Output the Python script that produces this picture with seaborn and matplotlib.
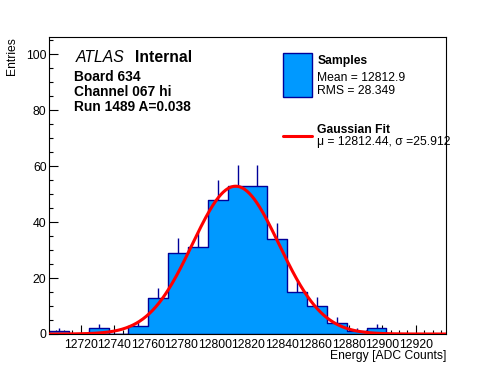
import numpy as np
import pandas as pd
import matplotlib
matplotlib.use("Agg")
import matplotlib.pyplot as plt
from matplotlib.patches import Rectangle
from matplotlib.lines import Line2D
from matplotlib.ticker import MultipleLocator
import seaborn as sns

# ---------------- data ----------------
bin_low = 12701.0
bin_width = 11.85
counts = [1, 0, 2, 0, 3, 13, 29, 31, 48, 53, 53, 34, 15, 10, 4, 1, 2, 0, 0, 0]
x_tick_values = [12720, 12740, 12760, 12780, 12800, 12820, 12840, 12860, 12880, 12900, 12920]
y_tick_values = [0, 20, 40, 60, 80, 100]
fit_mu = 12812.44
fit_sigma = 25.912
fit_amplitude = 52.8
sample_mean = "12812.9"
sample_rms = "28.349"
y_max = 106.0

FILL = "#0099ff"
EDGE = "#000099"

sns.set_style("ticks")
plt.rcParams["font.family"] = ["Liberation Sans", "DejaVu Sans"]
plt.rcParams["text.color"] = "black"
plt.rcParams["axes.labelcolor"] = "black"

W, H = 496, 372
fig = plt.figure(figsize=(W / 100, H / 100), dpi=100)
ax = fig.add_axes([49 / W, 1 - 334 / H, (446 - 49) / W, (334 - 37.3) / H])

counts_arr = np.array(counts, dtype=float)
n_bins = len(counts)
edges = bin_low + bin_width * np.arange(n_bins + 1)
centers = 0.5 * (edges[:-1] + edges[1:])
x_hi = float(edges[-1])

df = pd.DataFrame({"center": centers, "count": counts_arr})
sns.histplot(data=df, x="center", weights="count", bins=[float(e) for e in edges],
             element="step", fill=True, color=FILL, edgecolor=EDGE, linewidth=1.0,
             alpha=1.0, ax=ax, zorder=2)

nz = counts_arr > 0
ax.vlines(centers[nz], counts_arr[nz], counts_arr[nz] + np.sqrt(counts_arr[nz]),
          color=EDGE, linewidth=1.0, zorder=3)

xs = np.linspace(bin_low, x_hi, 500)
ys = fit_amplitude * np.exp(-0.5 * ((xs - fit_mu) / fit_sigma) ** 2)
sns.lineplot(x=xs, y=ys, color="red", linewidth=2.2, ax=ax, zorder=4)

ax.set_xlim(bin_low, x_hi)
ax.set_ylim(0, y_max)
ax.set_xticks(x_tick_values)
ax.set_xticklabels([str(v) for v in x_tick_values])
ax.set_yticks(y_tick_values)
ax.set_yticklabels([str(v) for v in y_tick_values])
ax.xaxis.set_minor_locator(MultipleLocator(5))
ax.yaxis.set_minor_locator(MultipleLocator(5))
ax.tick_params(axis="both", which="both", direction="in", colors="black", width=0.8,
               labelsize=8.8, top=False, right=False)
ax.tick_params(axis="both", which="major", length=6.5)
ax.tick_params(axis="both", which="minor", length=3.2)
ax.tick_params(axis="x", which="major", pad=3.3)
ax.tick_params(axis="y", which="major", pad=1.8)
ax.set_xlabel("")
ax.set_ylabel("")
for s in ax.spines.values():
    s.set_color("black")
    s.set_linewidth(0.8)
    s.set_visible(True)
ax.set_facecolor("white")


def P(x, y):
    return (x / W, 1 - y / H)


fig.text(*P(446, 358.5), "Energy [ADC Counts]", ha="right", va="baseline", fontsize=8.7)
fig.text(*P(12, 36.7), "Entries", ha="center", va="top", rotation=90, fontsize=8.7)

fig.text(*P(75.5, 61.5), "ATLAS", ha="left", va="baseline", fontsize=11.3, style="italic")
fig.text(*P(134.5, 61.5), "Internal", ha="left", va="baseline", fontsize=11.3, weight="bold")
fig.text(*P(74.5, 80.7), "Board 634", ha="left", va="baseline", fontsize=9.9, weight="bold")
fig.text(*P(74.5, 96), "Channel 067 hi", ha="left", va="baseline", fontsize=9.9, weight="bold")
fig.text(*P(74.5, 111), "Run 1489 A=0.038", ha="left", va="baseline", fontsize=9.9, weight="bold")

# legend
fig.patches.append(Rectangle(P(283.3, 96.7), 28.4 / W, 43.4 / H, facecolor=FILL,
                             edgecolor=EDGE, linewidth=1.0, transform=fig.transFigure))
fig.lines.append(Line2D([283.3 / W, 311.7 / W], [1 - 136 / H] * 2, color="red",
                        linewidth=2.2, transform=fig.transFigure))
fig.text(*P(317.3, 64), "Samples", ha="left", va="baseline", fontsize=8.7, weight="bold")
fig.text(*P(317.3, 80.7), f"Mean = {sample_mean}", ha="left", va="baseline", fontsize=8.7)
fig.text(*P(317.3, 94), f"RMS = {sample_rms}", ha="left", va="baseline", fontsize=8.7)
fig.text(*P(317.3, 133), "Gaussian Fit", ha="left", va="baseline", fontsize=8.7, weight="bold")
fig.text(*P(317.3, 145), f"\u03bc = {fit_mu:.2f}, \u03c3 ={fit_sigma:.3f}", ha="left",
         va="baseline", fontsize=8.7)

fig.savefig("out.png", dpi=100)
